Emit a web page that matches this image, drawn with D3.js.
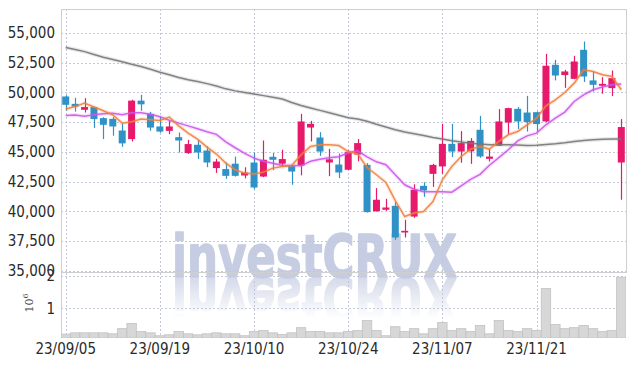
<!DOCTYPE html>
<html><head><meta charset="utf-8">
<script src="https://cdn.jsdelivr.net/npm/d3@7"></script>
<style>
html,body{margin:0;padding:0;background:#fff;}
svg{display:block;}
</style></head>
<body><svg id="c" width="634" height="366"></svg>
<script>
const dates = ["23/09/05","23/09/06","23/09/07","23/09/08","23/09/11","23/09/12","23/09/13","23/09/14","23/09/15","23/09/18",
"23/09/19","23/09/20","23/09/21","23/09/22","23/09/25","23/09/26","23/09/27","23/10/04","23/10/05","23/10/06",
"23/10/10","23/10/11","23/10/12","23/10/13","23/10/16","23/10/17","23/10/18","23/10/19","23/10/20","23/10/23",
"23/10/24","23/10/25","23/10/26","23/10/27","23/10/30","23/10/31","23/11/01","23/11/02","23/11/03","23/11/06",
"23/11/07","23/11/08","23/11/09","23/11/10","23/11/13","23/11/14","23/11/15","23/11/16","23/11/17","23/11/20",
"23/11/21","23/11/22","23/11/23","23/11/24","23/11/27","23/11/28","23/11/29","23/11/30","23/12/01","23/12/04"];
const open  = [49650,49030,48530,48760,47830,47770,46790,46070,49300,48190,47130,46760,46230,44890,45590,45110,43630,43550,44000,43010,
44100,42920,44580,44000,43800,43850,47040,46200,44100,43930,43490,44770,43900,40000,40130,40460,38220,39560,42140,43150,
43770,45670,45020,45040,46850,44410,45520,47460,48610,48300,48330,47550,52310,51450,51130,53570,51000,50550,50350,44100];
const high  = [49750,49540,49510,48800,47900,47940,47350,49370,49790,48360,47970,47600,46620,46000,46000,45450,44410,44100,44600,43700,
44940,45950,44900,45170,43900,48190,47600,46650,45250,44850,45130,46070,44050,41950,41050,40750,39290,42270,42440,43990,
47350,47350,46740,46150,48020,45230,48590,48700,48760,49700,48400,53230,52730,51890,53070,54270,51750,51270,51830,47750];
const low   = [48450,48380,48300,47000,46070,46350,45420,45870,48450,46770,46600,46490,44940,44830,44400,43710,43230,42730,42920,42770,
41870,42870,43450,43760,42230,43020,45870,44660,42950,42790,43450,44200,39900,39980,40040,37600,37800,39450,41220,42060,
43150,44550,44080,43990,44500,44180,45500,46510,46920,46700,46710,47500,51000,50370,51100,50870,50070,49880,49680,40970];
const close = [48950,48800,48760,47750,47270,47130,45710,49300,48990,47040,46700,47130,45950,45650,44940,44100,44180,42980,42980,43260,
42000,44330,44330,44390,43340,47550,47350,45020,44370,43260,45000,45730,39930,40970,40320,37800,38360,41810,41750,43900,
45670,45020,45730,45920,44610,44600,47550,48670,47550,47500,47330,52230,51410,51750,52590,51330,50630,50710,51190,47080];
const ma5  = [48590,48800,49090,48760,48450,48110,47410,47520,47750,47690,47630,47920,47180,46570,46070,45390,44810,44050,43490,43210,
43130,43290,43630,43760,43850,44750,45450,45590,45590,45530,45020,44830,43680,43070,42420,40900,39560,39850,39980,40820,
42650,43770,44610,45230,45450,45230,45870,46430,46710,47270,47830,48860,49370,49980,50770,51890,51750,51470,51330,50210];
const ma10 = [48050,48090,47980,48110,48190,48230,48110,48280,48280,48150,47940,47650,47410,47180,46930,46680,46470,45840,45340,44870,
44470,44200,44030,43850,43850,43820,44200,44370,44500,44580,44920,45080,44580,44160,43910,43070,42230,41850,41640,41640,
41640,41610,42140,42690,43110,43870,44510,45170,45920,46340,46570,47270,47830,48340,49230,49790,50210,50440,50630,50690];
const ma60 = [53770,53600,53420,53180,52950,52760,52560,52350,52170,51940,51690,51470,51240,51050,50900,50730,50530,50290,50120,49990,
49860,49720,49590,49440,49140,48890,48680,48480,48280,48080,47870,47760,47560,47310,47080,46850,46660,46520,46370,46210,
46070,45930,45830,45720,45660,45600,45590,45590,45570,45540,45550,45610,45670,45760,45870,45950,46010,46050,46070,46070];
const volume = [200000,240000,240000,240000,240000,210000,370000,530000,280000,240000,150000,180000,280000,210000,180000,210000,240000,210000,210000,150000,
280000,310000,240000,190000,240000,400000,280000,280000,240000,240000,280000,310000,620000,310000,150000,430000,280000,370000,210000,370000,
560000,310000,370000,280000,470000,210000,620000,310000,280000,370000,310000,1610000,500000,370000,400000,470000,370000,280000,310000,1960000];
const priceTicks = [35000,37500,40000,42500,45000,47500,50000,52500,55000];
const volTicks = [1000000,2000000];
const dateTicks = ["23/09/05","23/09/19","23/10/10","23/10/24","23/11/07","23/11/21"];

const svg = d3.select("#c");
const L = 61, R = 626, PT = 9, PB = 272, VT = 276, VB = 338;
const UP = "#e6196b", DOWN = "#2e92c7", GRID = "#c3c8da";
const AXF = '"Liberation Sans Narrow","DejaVu Sans Condensed",sans-serif';

const x = d3.scaleBand().domain(dates).range([L, R]).padding(0);
const cx = d => x(d) + x.bandwidth() / 2;
const y = d3.scaleLinear().domain([34900, 57000]).range([PB, PT]);
const yv = d3.scaleLinear().domain([0, 2000000]).range([340.6, VT]);

const defs = svg.append("defs");
defs.append("clipPath").attr("id","vclip").append("rect").attr("x",L).attr("y",VT-4).attr("width",R-L).attr("height",VB-VT+4);
const grad = defs.append("linearGradient").attr("id","fade").attr("x1",0).attr("y1",0).attr("x2",0).attr("y2",1);
grad.append("stop").attr("offset","0%").attr("stop-color","#fff").attr("stop-opacity",0.75);
grad.append("stop").attr("offset","100%").attr("stop-color","#fff").attr("stop-opacity",0);
const mask = defs.append("mask").attr("id","rmask").attr("maskUnits","userSpaceOnUse")
  .attr("x",0).attr("y",0).attr("width",634).attr("height",366);
mask.append("rect").attr("x",150).attr("y",277).attr("width",340).attr("height",42).attr("fill","url(#fade)");

// watermark
const wmText = (sel) => sel.attr("x",172).attr("y",277).text("investCRUX")
  .attr("font-family","DejaVu Sans, sans-serif").attr("font-size",59).attr("font-weight","bold")
  .attr("fill","#c6cde2").attr("stroke","#c6cde2").attr("stroke-width",1.5).attr("stroke-linejoin","round")
  .attr("textLength",285).attr("lengthAdjust","spacingAndGlyphs");
const wm = svg.append("g");
wm.append("text").call(wmText);
wm.append("g").attr("mask","url(#rmask)")
  .append("text").attr("transform","translate(0,555) scale(1,-1)").call(wmText);

// grid
const g = svg.append("g").attr("stroke",GRID).attr("stroke-dasharray","2,2").attr("stroke-width",1);
priceTicks.forEach(t => g.append("line").attr("x1",L).attr("x2",R).attr("y1",Math.round(y(t))+0.5).attr("y2",Math.round(y(t))+0.5));
volTicks.forEach(t => g.append("line").attr("x1",L).attr("x2",R).attr("y1",Math.round(yv(t))+0.5).attr("y2",Math.round(yv(t))+0.5));
dateTicks.forEach(t => g.append("line").attr("x1",Math.round(cx(t))+0.5).attr("x2",Math.round(cx(t))+0.5).attr("y1",PT).attr("y2",VB));

// frames
svg.append("rect").attr("x",L+0.5).attr("y",PT+0.5).attr("width",R-L).attr("height",PB-PT)
  .attr("fill","none").attr("stroke","#cfcfcf");
svg.append("line").attr("x1",L+0.5).attr("x2",L+0.5).attr("y1",PB).attr("y2",VB).attr("stroke","#cfcfcf");

// volume
svg.append("g").attr("clip-path","url(#vclip)").selectAll("rect").data(dates).join("rect")
  .attr("x",d=>x(d)).attr("width",x.bandwidth())
  .attr("y",(d,i)=>yv(volume[i])).attr("height",(d,i)=>Math.max(0, VB - yv(volume[i])))
  .attr("fill","#d7d7d7").attr("stroke","#c2c2c2").attr("stroke-width",0.8);

// candles
const bw = 7;
const cg = svg.append("g");
dates.forEach((d,i) => {
  const col = close[i] >= open[i] ? UP : DOWN;
  const xc = Math.round(cx(d)) + 0.5;
  cg.append("line").attr("x1",xc).attr("x2",xc).attr("y1",y(high[i])).attr("y2",y(low[i]))
    .attr("stroke",col).attr("stroke-width",1.2);
  const top = y(Math.max(open[i],close[i])), bot = y(Math.min(open[i],close[i]));
  cg.append("rect").attr("x",cx(d)-bw/2).attr("width",bw).attr("y",top).attr("height",Math.max(1.5,bot-top))
    .attr("fill",col);
});

// moving averages
const line = arr => d3.line().x((d,i)=>cx(dates[i])).y(d=>y(d))(arr);
[[ma60,"#777777"],[ma10,"#cc55ee"],[ma5,"#f0803c"]].forEach(([arr,col]) => {
  svg.append("path").attr("d",line(arr)).attr("fill","none").attr("stroke",col).attr("stroke-width",4).attr("stroke-opacity",0.16);
  svg.append("path").attr("d",line(arr)).attr("fill","none").attr("stroke",col).attr("stroke-width",1.5).attr("stroke-opacity",0.9);
});

// axes
const axY = svg.append("g").attr("transform",`translate(${L},0)`)
  .call(d3.axisLeft(y).tickValues(priceTicks).tickFormat(d3.format(",")).tickSize(0).tickPadding(6));
const axV = svg.append("g").attr("transform",`translate(${L},0)`)
  .call(d3.axisLeft(yv).tickValues(volTicks).tickFormat(d=>d/1e6).tickSize(0).tickPadding(6));
const axX = svg.append("g").attr("transform",`translate(0,${VB})`)
  .call(d3.axisBottom(x).tickValues(dateTicks).tickSize(0).tickPadding(5));
[axY,axV,axX].forEach(a => {
  a.select(".domain").remove();
  a.attr("font-family",AXF).attr("font-size",15);
  a.selectAll("text").attr("fill","#2a2a2a");
});
const ex = svg.append("text").attr("transform","translate(33,303) rotate(-90)").attr("text-anchor","middle")
  .attr("font-family","DejaVu Serif, serif").attr("font-size",11).attr("fill","#444");
ex.append("tspan").text("10");
ex.append("tspan").attr("dy",-5).attr("font-size",8).text("6");
</script></body></html>
